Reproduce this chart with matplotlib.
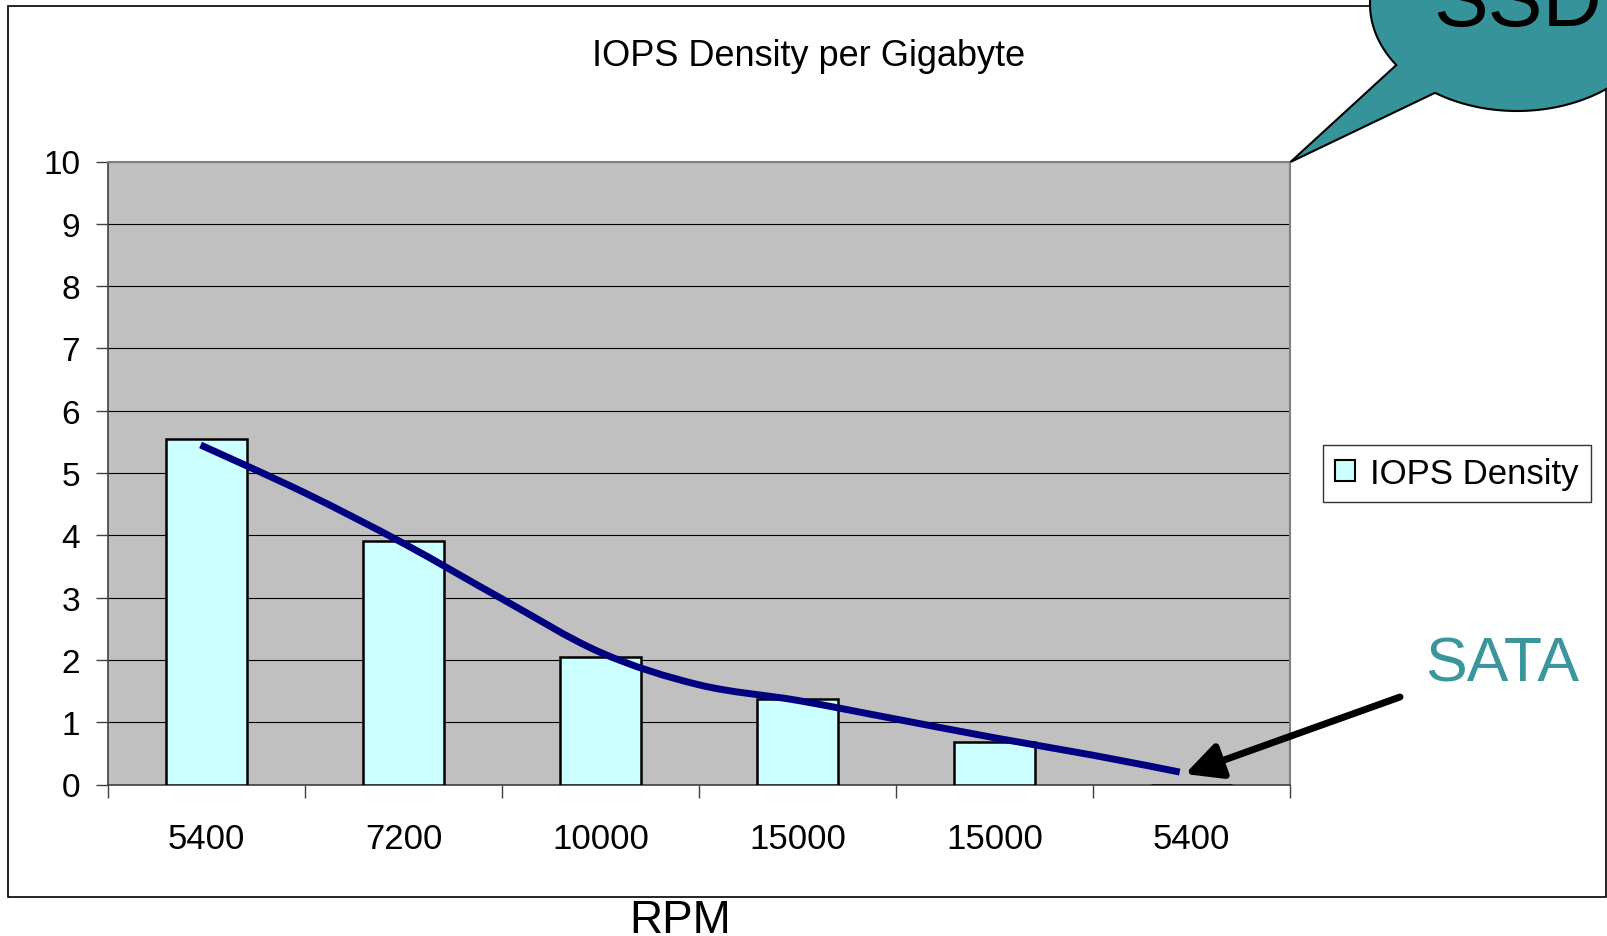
import numpy as np
import matplotlib
matplotlib.use("Agg")
import matplotlib.pyplot as plt
from matplotlib.patches import Polygon, Rectangle, PathPatch
from matplotlib.path import Path

plt.rcParams['font.family'] = ['Liberation Sans', 'DejaVu Sans']

# data
rpm_labels = ['5400', '7200', '10000', '15000', '15000', '5400']
iops_density = [5.54, 3.91, 2.04, 1.37, 0.68, 0.0]

# hand drawn trend line (category index, value), drawn smoothed
trend_x = [-0.03, 0.5, 1.0, 1.5, 2.0, 2.5, 3.0, 3.5, 4.0, 4.5, 4.94]
trend_y = [5.45, 4.68, 3.87, 2.98, 2.12, 1.6, 1.35, 1.05, 0.75, 0.47, 0.2]

W, H = 1608, 937
teal = '#37939A'


def smooth_path(xs, ys):
    # catmull-rom through the points, as bezier segments
    p = np.column_stack([xs, ys])
    verts = [p[0]]
    codes = [Path.MOVETO]
    for i in range(len(p) - 1):
        p0 = p[i - 1] if i > 0 else p[i]
        p3 = p[i + 2] if i + 2 < len(p) else p[i + 1]
        verts += [p[i] + (p[i + 1] - p0) / 6, p[i + 1] - (p3 - p[i]) / 6, p[i + 1]]
        codes += [Path.CURVE4] * 3
    return Path(verts, codes)


fig = plt.figure(figsize=(W / 100, H / 100), dpi=100)

# main chart area (pixel box 108..1290 x 162.5..785.5)
ax = fig.add_axes([108 / W, 1 - 785.5 / H, (1290 - 108) / W, (785.5 - 162.5) / H])
ax.set_facecolor('#C0C0C0')
x = np.arange(len(rpm_labels))
ax.bar(x, iops_density, width=0.41, color='#CCFFFF', edgecolor='black',
       linewidth=1.8, label='IOPS Density', zorder=3)
ax.add_patch(PathPatch(smooth_path(trend_x, trend_y), fill=False,
                       edgecolor='#000080', lw=5, capstyle='butt', zorder=4))

ax.set_xlim(-0.5, len(rpm_labels) - 0.5)
ax.set_ylim(0, 10)
ax.set_yticks(range(0, 11))
ax.set_xticks(x)
ax.set_xticklabels(rpm_labels)
ax.set_xticks(np.arange(-0.5, len(rpm_labels), 1), minor=True)
ax.tick_params(axis='x', which='major', length=0, pad=27, labelsize=25)
ax.tick_params(axis='x', which='minor', length=9, width=1, color='#404040', direction='out')
ax.tick_params(axis='y', length=9, width=1, color='#404040', pad=11, labelsize=24)
ax.grid(axis='y', color='black', lw=0.8, zorder=1)
ax.set_axisbelow(True)
for s in ['top', 'right']:
    ax.spines[s].set_color('#808080')
    ax.spines[s].set_linewidth(1.5)
for s in ['left', 'bottom']:
    ax.spines[s].set_color('#404040')
    ax.spines[s].set_linewidth(1.2)

leg = ax.legend(loc='center', bbox_to_anchor=(1457 / W, 1 - 474.5 / H),
                bbox_transform=fig.transFigure, fontsize=25, frameon=True,
                fancybox=False, edgecolor='black', handlelength=0.57,
                handleheight=0.57, handletextpad=0.43, borderpad=0.35,
                borderaxespad=0)
leg.get_frame().set_linewidth(1)
leg.legend_handles[0].set_linewidth(1.5)

fig.text(809 / W, 1 - 66 / H, 'IOPS Density per Gigabyte', ha='center',
         va='baseline', fontsize=26)
fig.text(680 / W, 1 - 933 / H, 'RPM', ha='center', va='baseline', fontsize=33)

# overlay in image pixel coordinates for the slide decorations
ov = fig.add_axes([0, 0, 1, 1], zorder=10)
ov.set_xlim(0, W)
ov.set_ylim(H, 0)
ov.axis('off')

ov.add_patch(Rectangle((8, 7), 1598, 891, fill=False, edgecolor='black', lw=1.2))

# SSD speech bubble
cx, cy, a, b = 1517, 5, 147, 107
t = np.radians(np.linspace(145.2, 483.9, 300))
pts = np.column_stack([cx + a * np.cos(t), cy + b * np.sin(t)])
pts = np.vstack([pts, [[1290.5, 163]]])
ov.add_patch(Polygon(pts, closed=True, facecolor=teal, edgecolor='black', lw=1.5))
ov.text(1433, 26, 'SSD', fontsize=59, color='black', ha='left', va='baseline')

ov.text(1425, 682, 'SATA', fontsize=45, color='#3A969C', ha='left', va='baseline')
ov.annotate('', xy=(1185, 775), xytext=(1400, 698),
            arrowprops=dict(arrowstyle='-|>,head_length=1.1,head_width=0.55',
                            color='black', lw=5, mutation_scale=20,
                            shrinkA=0, shrinkB=0))

fig.savefig('out.png', dpi=100)
